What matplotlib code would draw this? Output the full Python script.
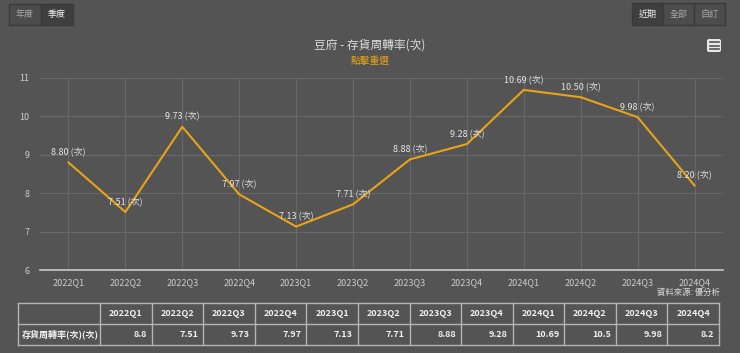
import matplotlib
matplotlib.use("Agg")
import matplotlib.pyplot as plt
from matplotlib.patches import Rectangle, FancyBboxPatch

plt.rcParams['font.family'] = ['Noto Sans CJK TC', 'DejaVu Sans']

categories = ["2022Q1", "2022Q2", "2022Q3", "2022Q4", "2023Q1", "2023Q2",
              "2023Q3", "2023Q4", "2024Q1", "2024Q2", "2024Q3", "2024Q4"]
values = [8.80, 7.51, 9.73, 7.97, 7.13, 7.71, 8.88, 9.28, 10.69, 10.50, 9.98, 8.20]
table_values = ["8.8", "7.51", "9.73", "7.97", "7.13", "7.71", "8.88", "9.28", "10.69", "10.5", "9.98", "8.2"]
yticks = [6, 7, 8, 9, 10, 11]
title = "豆府 - 存貨周轉率(次)"
subtitle = "點擊重選"
series_name = "存貨周轉率(次)(次)"
source = "資料來源: 優分析"

W, H = 740, 353
BG = "#545454"
ORANGE = "#e8a317"
fig = plt.figure(figsize=(W / 100, H / 100), dpi=100, facecolor=BG)

# overlay axes in pixel coords (y downward)
ov = fig.add_axes([0, 0, 1, 1], facecolor="none")
ov.set_xlim(0, W)
ov.set_ylim(H, 0)
ov.axis("off")

# main chart
L, R, T, B = 40, 723, 78, 270
ax = fig.add_axes([L / W, 1 - B / H, (R - L) / W, (B - T) / H], facecolor=BG)
x = list(range(len(categories)))
ax.set_xlim(-0.5, len(categories) - 0.5)
ax.set_ylim(6, 11)
ax.set_yticks(yticks)
ax.set_xticks(x)
ax.set_xticklabels(categories)
ax.tick_params(axis="both", length=0, colors="#cccccc", labelsize=6.5)
ax.tick_params(axis="x", pad=6)
ax.tick_params(axis="y", pad=7.5)
ax.grid(True, color="#686868", linewidth=0.8)
ax.set_axisbelow(True)
for s in ["top", "right", "left"]:
    ax.spines[s].set_visible(False)
ax.spines["bottom"].set_color("#c8c8c8")
ax.spines["bottom"].set_linewidth(1.2)
ax.plot(x, values, color=ORANGE, linewidth=1.5, zorder=3)
for xi, v in zip(x, values):
    ax.annotate(f"{v:.2f} (次)", (xi, v), xytext=(0, 7), textcoords="offset points",
                ha="center", va="center", fontsize=6.5, color="#e6e6e6", zorder=4)

# title / subtitle
ov.text(370, 45, title, ha="center", va="center", fontsize=8.5, color="#dcdcdc")
ov.text(370, 61, subtitle, ha="center", va="center", fontsize=7, color=ORANGE)
ov.text(720, 292, source, ha="right", va="center", fontsize=6, color="#dcdcdc")

# buttons
def button(x0, y0, w, h, label, active):
    ov.add_patch(Rectangle((x0, y0), w, h, facecolor="#3f3f3f" if active else "#4c4c4c",
                           edgecolor="#3a3a3a", linewidth=1))
    ov.text(x0 + w / 2, y0 + h / 2, label, ha="center", va="center", fontsize=6.5,
            color="#f0f0f0" if active else "#a8a8a8")

button(9, 4, 32, 21, "年度", False)
button(41, 4, 32, 21, "季度", True)
button(632, 3, 31, 22, "近期", True)
button(663, 3, 31, 22, "全部", False)
button(694, 3, 31, 22, "自訂", False)

# menu icon
ov.add_patch(FancyBboxPatch((707, 39), 14, 13, boxstyle="round,pad=0,rounding_size=2",
                            facecolor="#e8e8e8", edgecolor="none"))
for yy in (42, 45.5, 49):
    ov.plot([709.5, 718.5], [yy, yy], color="#545454", linewidth=1.2)

# table
tx0, tx1 = 18, 719
first_w = 82
col_w = (tx1 - tx0 - first_w) / len(categories)
ty0, ty1, ty2 = 303, 324, 345
lc = "#b4b4b4"
ov.plot([tx0, tx1], [ty0, ty0], color=lc, linewidth=1)
ov.plot([tx0, tx1], [ty1, ty1], color=lc, linewidth=1)
ov.plot([tx0, tx1], [ty2, ty2], color=lc, linewidth=1)
xs = [tx0, tx0 + first_w] + [tx0 + first_w + col_w * (i + 1) for i in range(len(categories))]
for xx in xs:
    ov.plot([xx, xx], [ty0, ty2], color=lc, linewidth=1)
ov.text(tx0 + 4, (ty1 + ty2) / 2, series_name, ha="left", va="center", fontsize=6.5,
        color="#f0f0f0", fontweight="bold")
for i, (c, tv) in enumerate(zip(categories, table_values)):
    cx0 = tx0 + first_w + col_w * i
    ov.text(cx0 + col_w / 2, (ty0 + ty1) / 2, c, ha="center", va="center", fontsize=6.5,
            color="#f0f0f0", fontweight="bold")
    ov.text(cx0 + col_w - 5, (ty1 + ty2) / 2, tv, ha="right", va="center", fontsize=6.5,
            color="#f0f0f0", fontweight="bold")

fig.savefig("out.png", dpi=100, facecolor=BG)
